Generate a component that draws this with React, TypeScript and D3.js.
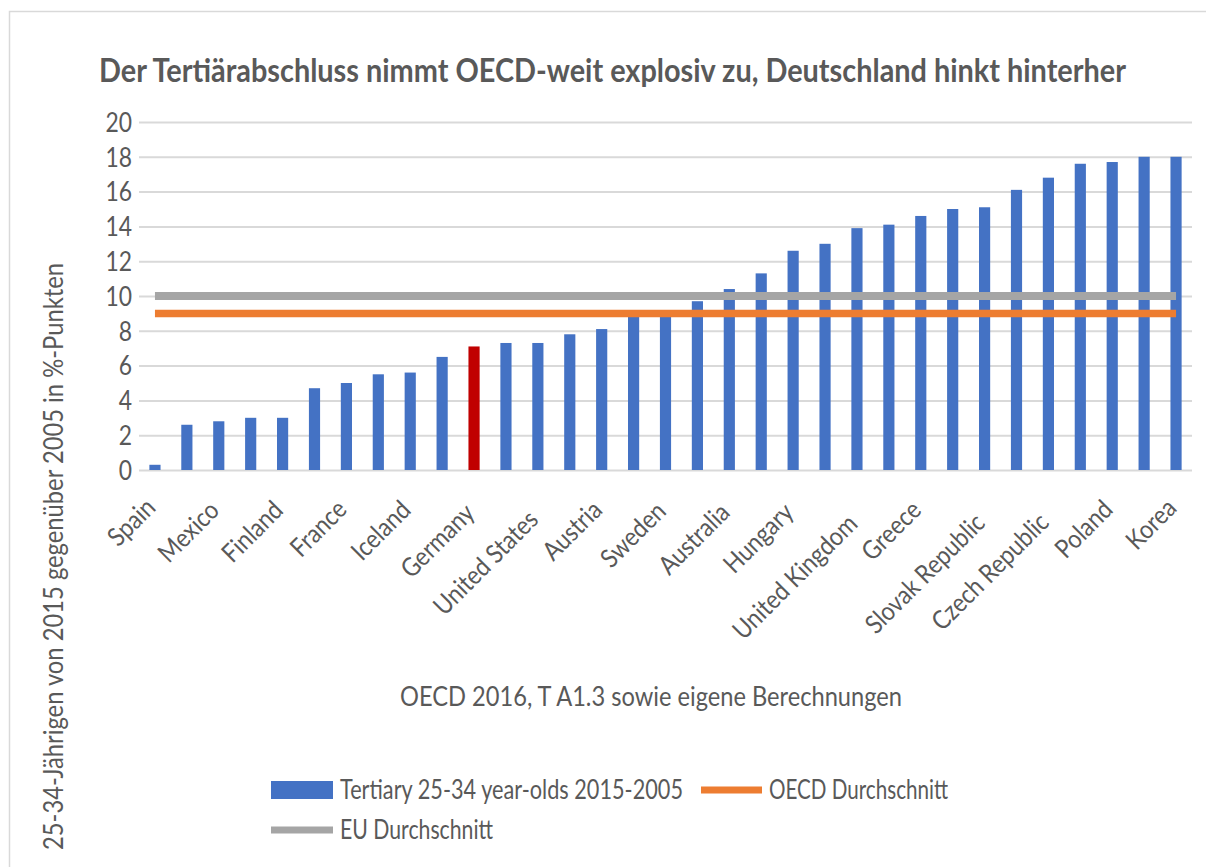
import React, { useRef, useEffect } from "react";
import * as d3 from "d3";

// change in share of tertiary-educated 25-34 year-olds, 2015 vs 2005 (%-points)
const countries = [
  "Spain", "Israel", "Mexico", "Denmark", "Finland", "Norway", "France",
  "Canada", "Iceland", "Netherlands", "Germany", "Japan", "United States",
  "New Zealand", "Austria", "Switzerland", "Sweden", "Estonia", "Australia",
  "Italy", "Hungary", "Slovenia", "United Kingdom", "Luxembourg", "Greece",
  "Ireland", "Slovak Republic", "Portugal", "Czech Republic", "Latvia",
  "Poland", "Turkey", "Korea",
];
const values = [
  0.3, 2.6, 2.8, 3.0, 3.0, 4.7, 5.0, 5.5, 5.6, 6.5, 7.1, 7.3, 7.3, 7.8, 8.1,
  9.0, 9.0, 9.7, 10.4, 11.3, 12.6, 13.0, 13.9, 14.1, 14.6, 15.0, 15.1, 16.1,
  16.8, 17.6, 17.7, 18.0, 18.0,
];
const highlight = "Germany";
const oecdAvg = 9;
const euAvg = 10;
const yTicks = [0, 2, 4, 6, 8, 10, 12, 14, 16, 18, 20];

const title = "Der Tertiärabschluss nimmt OECD-weit explosiv zu, Deutschland hinkt hinterher";
const subtitle = "OECD 2016, T A1.3 sowie eigene Berechnungen";
const yTitle = "25-34-Jährigen von 2015 gegenüber 2005 in %-Punkten";
const seriesNames = ["Tertiary 25-34 year-olds 2015-2005", "OECD Durchschnitt", "EU Durchschnitt"];

const W = 1206;
const H = 867;
const FONT = "Lato, 'Open Sans', sans-serif";
const TXT = "#595959";
const BLUE = "#4472C4";
const RED = "#C00000";
const ORANGE = "#ED7D31";
const GREY = "#A5A5A5";
const GRID = "#D9D9D9";

const App = () => {
  const svgRef = useRef<SVGSVGElement>(null);

  useEffect(() => {
    const svg = d3.select(svgRef.current);
    svg.selectAll("*").remove();

    const left = 139;
    const right = 1192;
    const top = 122;
    const bottom = 470;

    // Excel-like narrow text: squeeze Lato a bit horizontally
    const squeeze = (sel: any, k = 0.88, fixed?: number) =>
      sel.each(function (this: SVGTextElement) {
        const w = fixed ?? this.getComputedTextLength() * k;
        this.setAttribute("textLength", String(w));
        this.setAttribute("lengthAdjust", "spacingAndGlyphs");
      });

    const x = d3
      .scaleBand()
      .domain(countries)
      .range([left, right])
      .paddingInner(0.65)
      .paddingOuter(0.325);

    const y = d3.scaleLinear().domain([0, 20]).range([bottom, top]);

    // chart border (runs off the right/bottom of the picture)
    svg
      .append("rect")
      .attr("x", 9.5)
      .attr("y", 11.5)
      .attr("width", 1300)
      .attr("height", 1000)
      .attr("fill", "none")
      .attr("stroke", GRID)
      .attr("stroke-width", 1.5);

    // title, scaled horizontally to the reference width
    const titleText = svg
      .append("text")
      .attr("font-family", FONT)
      .attr("font-weight", "bold")
      .attr("font-size", 32)
      .attr("fill", TXT)
      .text(title);
    const tw = (titleText.node() as SVGTextElement).getComputedTextLength() || 1027;
    titleText.attr("transform", `translate(99,82) scale(${1027 / tw},1)`);

    // y axis with gridlines
    const yAxis = svg
      .append("g")
      .attr("transform", `translate(${left},0)`)
      .call(d3.axisLeft(y).tickValues(yTicks).tickSize(-(right - left)).tickPadding(7));
    yAxis.select(".domain").remove();
    yAxis.selectAll("line").attr("stroke", GRID).attr("stroke-width", 2);
    yAxis
      .selectAll("text")
      .attr("font-family", FONT)
      .attr("font-size", 26)
      .attr("fill", TXT)
      .attr("dy", "0.36em")
      .call(squeeze, 0.88);

    // bars
    svg
      .append("g")
      .selectAll("rect")
      .data(countries)
      .join("rect")
      .attr("x", (d) => x(d)!)
      .attr("y", (d, i) => y(values[i]))
      .attr("width", x.bandwidth())
      .attr("height", (d, i) => y(0) - y(values[i]))
      .attr("fill", (d) => (d === highlight ? RED : BLUE));

    // average lines
    const avgLine = (v: number) =>
      d3
        .line<string>()
        .x((d) => x(d)! + x.bandwidth() / 2)
        .y(() => y(v))(countries);

    svg
      .append("path")
      .attr("d", avgLine(oecdAvg))
      .attr("fill", "none")
      .attr("stroke", ORANGE)
      .attr("stroke-width", 7.5);
    svg
      .append("path")
      .attr("d", avgLine(euAvg))
      .attr("fill", "none")
      .attr("stroke", GREY)
      .attr("stroke-width", 8);

    // x axis labels, every other country
    const xAxis = svg
      .append("g")
      .attr("transform", `translate(0,${bottom})`)
      .call(
        d3
          .axisBottom(x)
          .tickSize(0)
          .tickFormat((d, i) => (i % 2 === 0 ? d : ""))
      );
    xAxis.select(".domain").remove();
    xAxis
      .selectAll("text")
      .attr("x", null)
      .attr("y", null)
      .attr("dy", null)
      .style("text-anchor", "end")
      .attr("font-family", FONT)
      .attr("font-size", 26)
      .attr("fill", TXT)
      .call(squeeze, 0.88)
      .attr("transform", function (this: SVGTextElement) {
        // longer labels sit a little lower, as Excel places them
        const len = +(this.getAttribute("textLength") || 0);
        return `translate(2,${31 + 0.15 * len}) rotate(-45)`;
      });

    // y axis title (cut by the picture's bottom edge)
    svg
      .append("text")
      .attr("transform", "translate(63,263) rotate(-90)")
      .attr("text-anchor", "end")
      .attr("font-family", FONT)
      .attr("font-size", 26)
      .attr("fill", TXT)
      .text(yTitle)
      .call(squeeze, 0.88, 587);

    // source line
    svg
      .append("text")
      .attr("x", 651)
      .attr("y", 706)
      .attr("text-anchor", "middle")
      .attr("font-family", FONT)
      .attr("font-size", 26)
      .attr("fill", TXT)
      .text(subtitle)
      .call(squeeze, 0.88, 502);

    // legend
    const legend = svg.append("g").attr("font-family", FONT).attr("font-size", 26).attr("fill", TXT);
    legend
      .append("rect")
      .attr("x", 271)
      .attr("y", 781)
      .attr("width", 62)
      .attr("height", 18)
      .attr("fill", BLUE);
    legend
      .append("text")
      .attr("x", 340)
      .attr("y", 799)
      .text(seriesNames[0])
      .call(squeeze, 0.88, 343);
    legend
      .append("line")
      .attr("x1", 701)
      .attr("x2", 762)
      .attr("y1", 790)
      .attr("y2", 790)
      .attr("stroke", ORANGE)
      .attr("stroke-width", 7);
    legend
      .append("text")
      .attr("x", 769)
      .attr("y", 799)
      .text(seriesNames[1])
      .call(squeeze, 0.88, 179);
    legend
      .append("line")
      .attr("x1", 271)
      .attr("x2", 333)
      .attr("y1", 830)
      .attr("y2", 830)
      .attr("stroke", GREY)
      .attr("stroke-width", 7);
    legend
      .append("text")
      .attr("x", 340)
      .attr("y", 839)
      .text(seriesNames[2])
      .call(squeeze, 0.88, 153);
  }, []);

  return (
    <svg
      ref={svgRef}
      width={W}
      height={H}
      style={{ position: "absolute", left: 0, top: 0, background: "#fff" }}
    ></svg>
  );
};

export default App;
